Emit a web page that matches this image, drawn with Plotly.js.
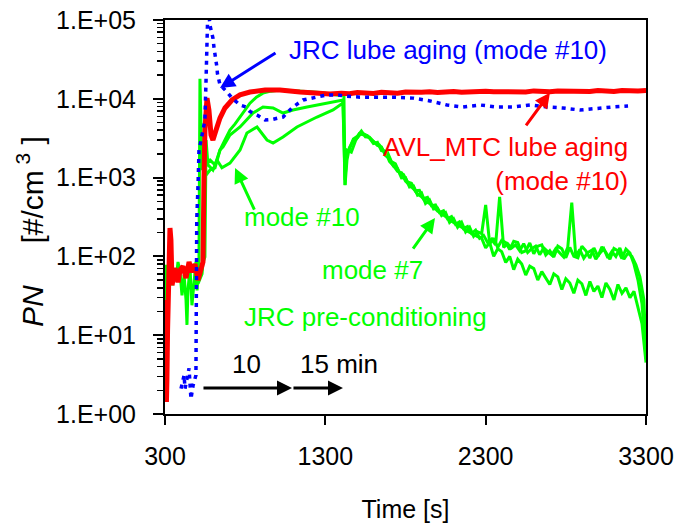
<!DOCTYPE html>
<html><head><meta charset="utf-8">
<script src="https://cdn.plot.ly/plotly-3.0.1.min.js"></script>
<style>html,body{margin:0;padding:0;background:#fff}#chart{width:676px;height:525px}</style>
</head><body><div id="chart"></div>
<script>
// ---- data (time in s, PN in #/cm3) ----
var redT = [300,304,309,312,316,320,326,331,337,344,362,381,394,412,431,450,468,487,506,525,537,543,549,562,574,587,599,618,643,674,718,768,830,924,1017,1142,1250,1329];
var redV = [28,6.5,1.42,2.7,11.6,50,162,229,162,43,71,47,67,75,53,85,63,80,50,71,85,933,4000,10200,7200,3470,3000,4000,5700,7640,9660,11200,12200,12900,12900,12200,12000,11500];
var redFlatT = [1400,1450,1500,1550,1600,1650,1700,1750,1800,1850,1900,1950,2000,2050,2100,2150,2200,2250,2300,2350,2400,2450,2500,2550,2600,2650,2700,2750,2800,2850,2900,2950,3000,3050,3100,3150,3200,3250,3300];
var redFlatV = [11800,11600,12000,11900,11700,12100,12000,11800,12200,12000,12100,12300,12000,12200,12400,12100,12300,12200,12500,12300,12200,12500,12400,12200,12600,12400,12300,12600,12500,12300,12600,12400,12700,12500,12400,12700,12500,12600,12700];

var blueT = [400,419,425,450,462,475,493,495,496,497,498,506,512,531,549,556,562,568,581,599,606,612,624,627,643,687,718,768,805,830,874,924,974,1036,1098,1161,1223,1310,1373,1429,1516,1597,1722,1847,1953,2059,2159,2265,2371,2470,2577,2683,2782,2888,2994,3094,3188];
var blueV = [2.1,3.1,2.1,3.8,1.55,2.3,3.1,8.7,28,90,290,806,2240,3470,5380,17300,55700,155000,85000,59000,44000,38000,25000,21000,15000,12200,10200,8340,7870,6900,6230,5380,5500,5870,7870,9660,10200,11200,11200,10800,10500,10500,10500,10200,9400,8340,7870,8340,7870,7870,8340,7870,7640,7210,7640,7870,8100];

var preT = [300,303,306,312,319,331,344,356,369,381,394,406,419,431,437,443,456,468,481,493,500,506];
var preV = [11.6,37,78,28,67,85,43,71,50,85,63,32,58,28,13.5,37,71,24,50,85,37,67];

var m10At = [512,518,525,531,549,581,612,643,674,705,737,768,799,830,870,911,960,1017,1080,1142,1204,1267,1329,1391,1416,1423,1429];
var m10Av = [90,18000,4000,1250,1450,1670,1450,2240,3000,4000,4800,5900,7200,8800,10500,11800,12500,12900,12700,12500,12300,12000,11500,11000,11200,800,1900];
var m10Bt = [506,531,537,543,556,581,612,643,662,705,768,811,849,911,974,1036,1098,1186,1248,1310,1373,1410,1423,1435];
var m10Bv = [45,60,85,2240,1080,1250,1330,2240,2450,3470,4390,5500,6600,7870,7640,6600,7210,7870,8300,8850,9300,9660,933,2240];
var m10Ct = [506,549,556,568,599,624,655,705,768,811,874,911,936,974,1036,1123,1186,1248,1348,1410,1423,1435];
var m10Cv = [55,98,3000,1450,1250,1670,1330,1530,2240,3680,4390,3470,3000,2750,3280,4390,5100,5870,7210,8850,806,1670];

var decT = [1450,1475,1500,1525,1550,1575,1600,1625,1650,1675,1700,1725,1750,1775,1800,1825,1850,1875,1900,1925,1950,1975,2000,2025,2050,2075,2100,2125,2150,2175,2200,2225,2250,2275,2300,2325,2350,2375,2400,2425,2450,2475,2500,2525,2550,2575,2600,2625,2650,2675,2700,2725,2750,2775,2800,2825,2850,2875,2900,2925,2950,2975,3000,3025,3050,3075,3100,3125,3150,3175,3200,3225,3250,3275,3300];
var decBT = [1462,1487,1512,1537,1562,1587,1612,1637,1662,1687,1712,1737,1762,1787,1812,1837,1862,1887,1912,1937,1962,1987,2012,2037,2062,2087,2112,2137,2162,2187,2212,2237,2262,2287,2312,2337,2362,2387,2412,2437,2462,2487,2512,2537,2562,2587,2612,2637,2662,2687,2712,2737,2762,2787,2812,2837,2862,2887,2912,2937,2962,2987,3012,3037,3062,3087,3112,3137,3162,3187,3212,3237,3262,3287,3300];
var decA = [2300,3100,3350,3900,3300,3250,2900,2550,2450,1900,1750,1400,1300,990,1000,760,780,600,640,470,520,400,410,330,360,270,300,235,270,205,235,180,205,195,450,145,170,130,160,150,122,155,150,112,118,148,108,135,140,104,118,98,135,125,96,130,100,96,135,118,95,128,100,132,112,92,126,118,94,124,110,80,50,25,5];
var decB = [2100,2900,3600,3500,3400,3000,2750,2600,2200,2100,1600,1500,1150,1100,880,850,680,690,540,560,440,450,360,380,300,320,255,275,225,240,195,215,170,185,150,165,140,570,130,145,128,140,118,145,112,125,135,105,128,115,104,125,112,98,130,480,100,122,95,112,120,92,110,125,96,115,100,128,92,110,100,78,55,28,6];
var decC = [2400,3000,3200,3700,3500,3200,2700,2800,2200,2150,1600,1420,1200,1150,900,800,720,620,570,500,470,430,375,350,320,290,270,250,235,215,200,190,178,170,128,150,100,125,115,84,100,68,92,80,58,75,70,50,64,52,44,60,55,38,52,46,34,50,45,32,48,36,42,30,46,38,28,44,34,40,30,36,22,14,4.5];

var yTickVals = [1,10,100,1000,10000,100000];
var yTickText = ['1.E+00','1.E+01','1.E+02','1.E+03','1.E+04','1.E+05'];
var xTickVals = [300,1300,2300,3300];

// ---- build ----
var minorVals = [];
yTickVals.slice(0,5).forEach(function(d){ for (var k=2;k<=9;k++) minorVals.push(d*k); });

var GREEN = '#00ff00', RED = '#ff0000', BLUE = '#0000ff';
function line(x,y,color,w,dash){ return {x:x,y:y,type:'scatter',mode:'lines',hoverinfo:'skip',
  line:{color:color,width:w,dash:dash||'solid'},showlegend:false}; }

var traces = [
  line(preT.concat(m10At, decT), preV.concat(m10Av, decA), GREEN, 3),
  line(m10Bt.concat(decBT), m10Bv.concat(decB), GREEN, 3),
  line(m10Ct.concat(decT), m10Cv.concat(decC), GREEN, 3),
  line(redT.concat(redFlatT), redV.concat(redFlatV), RED, 5),
  line(blueT, blueV, BLUE, 3.5, '4px,5px')
];

var L = Math.log10;
var F = 'Liberation Sans, Arial, sans-serif';
function txt(x, y, s, color, xa, extra){
  var a = {x:x, y:L(y), xref:'x', yref:'y', text:s, showarrow:false, xanchor:xa||'left', yanchor:'middle',
    font:{family:F, size:26, color:color}};
  if (extra) for (var k in extra) a[k]=extra[k];
  return a;
}
function arr(x, y, ax, ay, color, w){
  return {x:x, y:L(y), xref:'x', yref:'y', text:'', showarrow:true, ax:ax, ay:ay,
    arrowhead:2, arrowsize:1, arrowwidth:w||2.5, arrowcolor:color, standoff:0};
}

var annotations = [
  txt(1061, 41600, 'JRC lube aging (mode #10)', BLUE),
  arr(643, 13700, 57, -36, BLUE, 3),
  txt(3200, 1490, 'AVL_MTC lube aging<br>(mode #10)', RED, 'right', {align:'right'}),
  arr(2701, 11900, -25, 34, RED, 3),
  txt(780, 316, 'mode #10', GREEN),
  arr(737, 1320, 20, 43, GREEN, 3),
  txt(1267, 67, 'mode #7', GREEN),
  arr(1984, 307, -23, 32, GREEN, 3),
  txt(780, 17, 'JRC pre-conditioning', GREEN),
  txt(705, 4.3, '10', 'black'),
  txt(1130, 4.3, '15 min', 'black'),
  arr(1092, 2.14, -90, 0, 'black', 3),
  arr(1410, 2.14, -51, 0, 'black', 3),
  {xref:'paper', yref:'paper', x:-0.2807, y:0.4645, xanchor:'center', yanchor:'middle', textangle:-90,
   showarrow:false, text:'<i>PN</i>&nbsp;&nbsp;&nbsp;&nbsp;&nbsp;[#/cm<sup>&nbsp;3</sup>&nbsp;]',
   font:{family:F, size:30, color:'#000'}}
];

var layout = {
  width:676, height:525,
  margin:{l:165, r:30, t:20, b:111},
  paper_bgcolor:'#fff', plot_bgcolor:'#fff',
  font:{family:F, size:25, color:'#000'},
  showlegend:false,
  xaxis:{range:[300,3300], tickmode:'array', tickvals:xTickVals, ticks:'outside', ticklen:9, tickwidth:2,
    tickcolor:'#000', showline:true, linewidth:2, linecolor:'#000', mirror:true, showgrid:false, zeroline:false,
    ticklabelstandoff:10,
    tickfont:{family:F, size:25, color:'#000'},
    title:{text:'Time [s]', font:{family:F, size:25, color:'#000'}, standoff:31}},
  yaxis:{type:'log', range:[0,5], tickmode:'array', tickvals:yTickVals, ticktext:yTickText, ticks:'outside',
    ticklen:10, tickwidth:2, tickcolor:'#000', showline:true, linewidth:2, linecolor:'#000', mirror:true,
    showgrid:false, zeroline:false, ticklabelstandoff:12,
    minor:{tickmode:'array', tickvals:minorVals, ticks:'outside', ticklen:6, tickwidth:1.5, tickcolor:'#000', showgrid:false},
    tickfont:{family:F, size:25, color:'#000'}},
  annotations:annotations
};

Plotly.newPlot('chart', traces, layout, {staticPlot:true, displayModeBar:false});
</script></body></html>
